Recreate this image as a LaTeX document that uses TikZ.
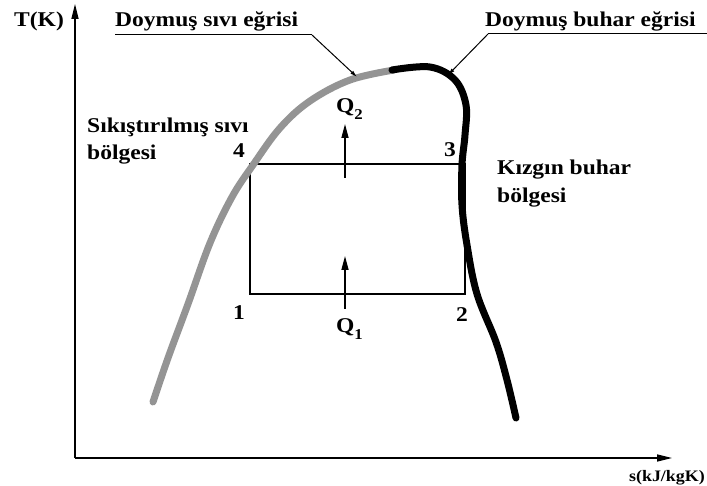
\documentclass[tikz,border=0pt]{standalone}
\usepackage{fontspec}
\setmainfont{Liberation Serif}[FakeStretch=1.12]
\usetikzlibrary{arrows.meta}
\newcommand{\qsub}[1]{Q\raisebox{-0.3em}{\fontsize{15}{15}\selectfont #1}}
\tikzset{
  lbl/.style={font=\fontsize{21}{23}\selectfont\bfseries, inner sep=0pt, anchor=base west},
  num/.style={lbl, anchor=base},
  axis/.style={line width=1.5pt, -{Triangle[length=15pt,width=7pt]}},
  leader/.style={line width=1pt, -{Latex[length=7pt,width=4pt]}},
  heat/.style={line width=1.5pt, -{Triangle[length=14pt,width=7pt]}}
}

\begin{document}
\begin{tikzpicture}[x=1pt,y=-1pt]
\useasboundingbox (0,0) rectangle (707,486);
% axes
\coordinate (o) at (75,458);
\coordinate (ytop) at (75,4);
\coordinate (xend) at (672,458);
\draw[axis] (o) -- (ytop);
\draw[axis] (o) -- (xend);
\node[lbl] (tk) at (14,27) {T(K)};
\node[lbl, anchor=base east, font=\fontsize{16}{18}\selectfont\bfseries] (skj) at (705,481) {s(kJ/kgK)};
% cycle
\coordinate (p1) at (250,294);
\coordinate (p2) at (465,294);
\coordinate (p3) at (462,164);
\coordinate (p4) at (250,164);
\draw[line width=1.3pt] (p1) -- (p2) -- (465,164) -- (p4) -- cycle;
% saturation dome
\draw[line width=7pt, black!42, line cap=round]
  plot[smooth, tension=0.6] coordinates {(153,402) (168,358) (188,304) (210,243) (232,197) (253,165) (280,128) (310,101) (350,80) (394,70)};
\draw[line width=7pt, line cap=round]
  plot[smooth, tension=0.6] coordinates {(392,70) (430,67) (455,80) (466,105) (465,135) (462,165) (462,205) (467,245) (477,294) (496,342) (507,380) (516,418)};
% labels
\node[num] (n4) at (239,158) {4};
\node[num] (n3) at (450,157) {3};
\node[num] (n1) at (239,320) {1};
\node[num] (n2) at (462,322) {2};
\node[lbl] (q2) at (336,113) {\qsub{2}};
\node[lbl] (q1) at (336,333) {\qsub{1}};
\coordinate (q2base) at (345,178);
\coordinate (q1tip) at (345,256);
\draw[heat] (q2base) -- (345,124);
\draw[heat] (345,309) -- (q1tip);
\node[lbl] (sikis) at (87,133) {Sıkıştırılmış sıvı};
\node[lbl] (sikis2) at (87,160) {bölgesi};
\node[lbl] (kizgin) at (497,175) {Kızgın buhar};
\node[lbl] (kizgin2) at (497,203) {bölgesi};
\node[lbl] (dsivi) at (115,27) {Doymuş sıvı eğrisi};
\node[lbl] (dbuhar) at (485,27) {Doymuş buhar eğrisi};
\coordinate (c1) at (312,35);
\coordinate (c2) at (488,34);
\draw[line width=1pt] (115,35) -- (c1);
\draw[leader] (c1) -- (357,77);
\draw[line width=1pt] (707,34) -- (c2);
\draw[leader] (c2) -- (448,75);
\end{tikzpicture}
\end{document}
